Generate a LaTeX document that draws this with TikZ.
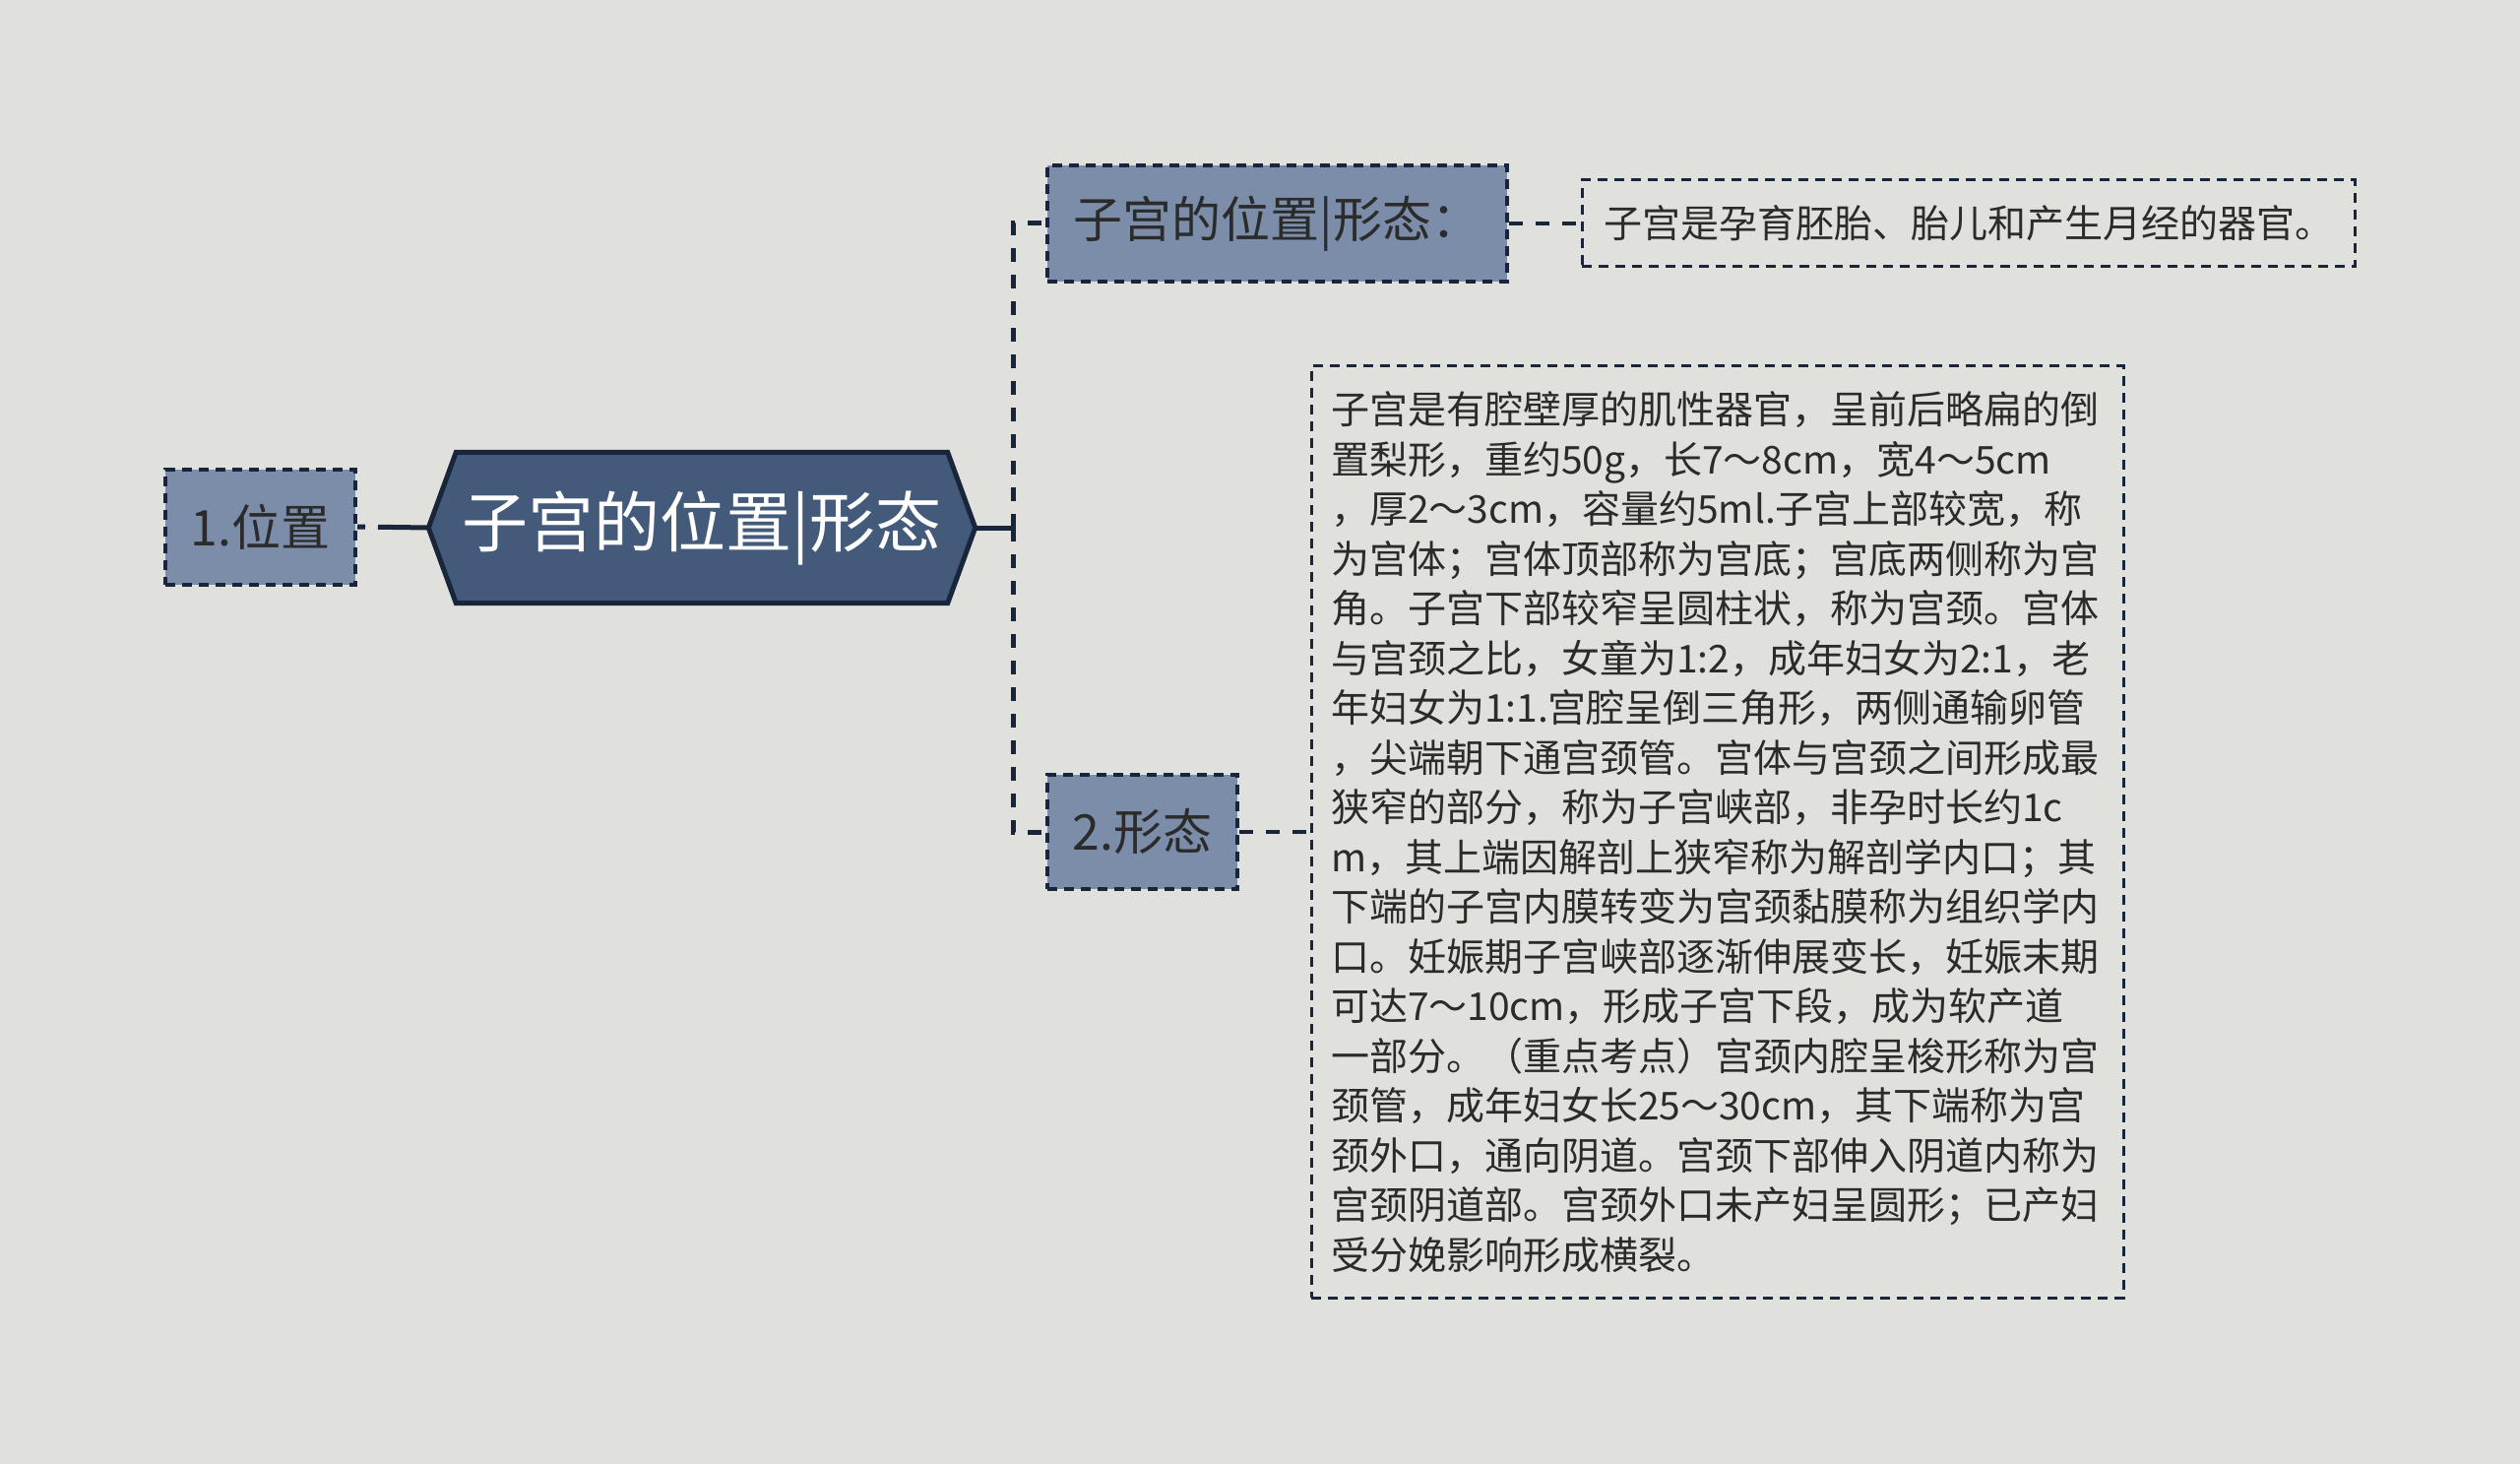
\documentclass[tikz,border=0pt]{standalone}
\usepackage{fontspec}
\setmainfont{Noto Sans CJK SC}
\begin{document}
\begin{tikzpicture}[x=1pt,y=-1pt,
  rootnode/.style={inner sep=0pt, minimum width=555pt, minimum height=153pt, text=white, font=\fontsize{67}{72}\selectfont},
  rootshape/.style={fill=rootfill, draw=edgecol, line width=5pt, line join=miter},
  subbox/.style={fill=subfill, draw=edgecol, line width=4pt, dash pattern=on 10pt off 7pt, inner sep=0pt, text=txt, font=\fontsize{50}{56}\selectfont},
  leafbox/.style={draw=edgecol, line width=3pt, dash pattern=on 10pt off 7pt, text=txt},
  conn/.style={draw=edgecol, line width=5pt},
  dconn/.style={draw=edgecol, line width=5pt, dash pattern=on 14pt off 13pt}
]
\definecolor{bg}{HTML}{E0E1DD}
\definecolor{rootfill}{HTML}{435A7A}
\definecolor{edgecol}{HTML}{18253A}
\definecolor{subfill}{HTML}{7B8DA9}
\definecolor{txt}{HTML}{2B2B2B}
\useasboundingbox (0,0) rectangle (2560,1487);
\fill[bg] (0,0) rectangle (2560,1487);

% root
\node[rootnode] (root) at (713,536) {子宫的位置|形态};
\draw[rootshape] (root.west) -- ([xshift=28pt]root.north west) -- ([xshift=-28pt]root.north east) -- (root.east) -- ([xshift=-28pt]root.south east) -- ([xshift=28pt]root.south west) -- cycle;
\node[rootnode] at (713,536) {子宫的位置|形态};

% left child
\node[subbox, minimum width=193pt, minimum height=117pt] (pos) at (264.5,535) {1.位置};

% right children
\node[subbox, minimum width=467pt, minimum height=118pt] (top) at (1297.5,227) {子宫的位置|形态：};
\node[subbox, minimum width=193pt, minimum height=116pt] (two) at (1160.5,845) {2.形态};

% leaves
\node[leafbox, minimum width=785pt, minimum height=88pt, inner sep=0pt, font=\fontsize{39}{46}\selectfont] (leafa) at (1999.5,227) {子宫是孕育胚胎、胎儿和产生月经的器官。};
\node[leafbox, text width=785pt, inner xsep=20pt, inner ysep=0pt, minimum height=946pt, align=left, font=\fontsize{39}{50.5}\selectfont] (leafb) at (1744.5,845) {子宫是有腔壁厚的肌性器官，呈前后略扁的倒\\
置梨形，重约50g，长7～8cm，宽4～5cm\\
，厚2～3cm，容量约5ml.子宫上部较宽，称\\
为宫体；宫体顶部称为宫底；宫底两侧称为宫\\
角。子宫下部较窄呈圆柱状，称为宫颈。宫体\\
与宫颈之比，女童为1:2，成年妇女为2:1，老\\
年妇女为1:1.宫腔呈倒三角形，两侧通输卵管\\
，尖端朝下通宫颈管。宫体与宫颈之间形成最\\
狭窄的部分，称为子宫峡部，非孕时长约1c\\
m，其上端因解剖上狭窄称为解剖学内口；其\\
下端的子宫内膜转变为宫颈黏膜称为组织学内\\
口。妊娠期子宫峡部逐渐伸展变长，妊娠末期\\
可达7～10cm，形成子宫下段，成为软产道\\
一部分。（重点考点）宫颈内腔呈梭形称为宫\\
颈管，成年妇女长25～30cm，其下端称为宫\\
颈外口，通向阴道。宫颈下部伸入阴道内称为\\
宫颈阴道部。宫颈外口未产妇呈圆形；已产妇\\
受分娩影响形成横裂。};

% connectors
\coordinate (j) at (1029,536);
\draw[conn, dash pattern={on 8pt off 13pt on 60pt off 0pt}] (pos.east) -- (root.west);
\draw[conn] (root.east) -- (j);
\draw[dconn] (j) |- (top.west);
\draw[dconn] (j) |- (two.west);
\draw[dconn, line width=3.5pt] (top.east) -- (leafa.west);
\draw[dconn, line width=3.5pt] (two.east) -- (leafb.west |- two.east);
\end{tikzpicture}
\end{document}
